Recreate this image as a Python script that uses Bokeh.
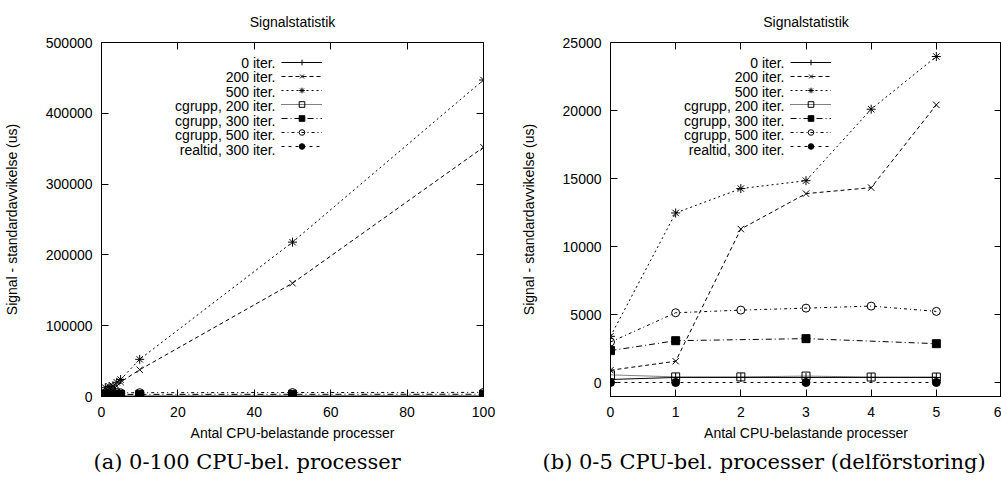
from bokeh.plotting import figure
from bokeh.models import (LinearAxis, FixedTicker, BasicTickFormatter, Range1d, Legend,
                          LegendItem, Label, CustomJSTickFormatter, Title)
from bokeh.layouts import row
from bokeh.embed import file_html
from bokeh.resources import INLINE

FONT = "Liberation Sans"
CAP_FONT = "DejaVu Serif"

# ---- data ----
x_all = [0, 1, 2, 3, 4, 5, 10, 50, 100]
x_300 = [0, 1, 3, 5, 10, 50, 100]

iter0 = [250, 400, 400, 400, 400, 400, 420, 450, 480]
iter200 = [930, 1590, 11300, 13900, 14340, 20420, 37800, 160000, 352000]
iter500 = [3420, 12480, 14270, 14850, 20100, 23970, 52500, 218000, 447000]
cg200 = [590, 440, 440, 500, 430, 430, 450, 480, 500]
cg300 = [2370, 3100, 3250, 2880, 3000, 3100, 3200]
cg500 = [3000, 5150, 5345, 5490, 5640, 5250, 5400, 5600, 5800]
rt300 = [30, 30, 30, 30, 40, 40, 50]

names = ["0 iter.", "200 iter.", "500 iter.", "cgrupp, 200 iter.",
         "cgrupp, 300 iter.", "cgrupp, 500 iter.", "realtid, 300 iter."]
xs = [x_all, x_all, x_all, x_all, x_300, x_all, x_300]
ys = [iter0, iter200, iter500, cg200, cg300, cg500, rt300]
markers = ["cross", "x", "asterisk", "square", "square", "circle", "circle"]
msizes = [9, 9, 9, 8, 8, 8, 8]
fills = [None, None, None, None, "black", None, "black"]
dashes = ["solid", "4 3", "2 3", "1 1", "6 3 1 3", "3 3 1 3", "3 4"]

left_xticks = [0, 20, 40, 60, 80, 100]
left_yticks = [0, 100000, 200000, 300000, 400000, 500000]
right_xticks = [0, 1, 2, 3, 4, 5, 6]
right_yticks = [0, 5000, 10000, 15000, 20000, 25000]

title_text = "Signalstatistik"
xlabel = "Antal CPU-belastande processer"
ylabel = "Signal - standardavvikelse (us)"
cap_a = "(a) 0-100 CPU-bel. processer"
cap_b = "(b) 0-5 CPU-bel. processer (delf\u00f6rstoring)"

ROW_PITCH = 14.5


def make_plot(width, bl, br, xr, yr, xticks, yticks, xmax, caption, cap_offset):
    p = figure(width=width, height=481, x_range=Range1d(*xr), y_range=Range1d(*yr),
               output_backend="svg", toolbar_location=None,
               min_border_left=bl, min_border_right=br, min_border_top=42,
               min_border_bottom=85)
    p.xgrid.visible = False
    p.ygrid.visible = False
    p.outline_line_color = "black"
    p.outline_line_alpha = 1.0
    p.background_fill_color = "white"
    p.border_fill_color = "white"

    for ax, ticks in ((p.xaxis[0], xticks), (p.yaxis[0], yticks)):
        ax.ticker = FixedTicker(ticks=ticks)
        ax.formatter = BasicTickFormatter(use_scientific=False)
        ax.major_tick_in = 7
        ax.major_tick_out = 0
        ax.minor_tick_in = 0
        ax.minor_tick_out = 0
        ax.major_tick_line_color = "black"
        ax.axis_line_color = "black"
        ax.major_label_text_font = FONT
        ax.major_label_text_font_size = "14px"
        ax.major_label_text_color = "black"
        ax.axis_label_text_font = FONT
        ax.axis_label_text_font_size = "14px"
        ax.axis_label_text_font_style = "normal"
        ax.axis_label_text_color = "black"
    p.xaxis[0].axis_label = xlabel
    p.xaxis[0].major_label_standoff = 10
    p.xaxis[0].axis_label_standoff = 5
    p.yaxis[0].axis_label = ylabel
    p.yaxis[0].major_label_standoff = 9
    p.yaxis[0].axis_label_standoff = 23

    for loc, ticks in (("above", xticks), ("right", yticks)):
        ax = LinearAxis(ticker=FixedTicker(ticks=ticks),
                        formatter=CustomJSTickFormatter(code="return ''"),
                        major_tick_in=7, major_tick_out=0, minor_tick_in=0,
                        minor_tick_out=0, major_label_standoff=0,
                        axis_line_color=None, major_tick_line_color="black")
        p.add_layout(ax, loc)

    # spacer above the frame, then the plot title further out
    p.add_layout(Title(text=" ", text_font_size="6px", standoff=0), "above")
    p.add_layout(Title(text=title_text, align="center", text_font=FONT,
                       text_font_size="14px", text_font_style="normal",
                       text_color="black"), "above")

    items = []
    for i, (name, x, y, m, ms, f, d) in enumerate(zip(names, xs, ys, markers, msizes,
                                                      fills, dashes)):
        xx = [a for a in x if a <= xmax]
        yy = [b for a, b in zip(x, y) if a <= xmax]
        lr = p.line(xx, yy, line_color="black", line_width=1, line_dash=d)
        sr = p.scatter(xx, yy, marker=m, size=ms, line_color="black", line_width=1,
                       fill_color=f if f else None)
        items.append(LegendItem(label=" ", renderers=[lr, sr]))
        # gnuplot-style key text: right-aligned, left of the sample
        p.add_layout(Label(x=174, y=334 - i * ROW_PITCH, x_units="screen", y_units="screen",
                           text=name, text_align="right", text_baseline="middle",
                           text_font=FONT, text_font_size="14px", text_color="black"))

    legend = Legend(items=items, location=(180, 243), padding=0, margin=0, spacing=0,
                    glyph_width=41, glyph_height=14, label_height=14, label_width=0,
                    label_standoff=0, label_text_font=FONT, label_text_font_size="8px",
                    border_line_color=None, background_fill_alpha=0)
    p.add_layout(legend)

    cap = Title(text=caption, align="left", offset=cap_offset, standoff=8,
                text_font=CAP_FONT, text_font_size="21px", text_font_style="normal",
                text_color="black")
    p.add_layout(cap, "below")
    return p


p1 = make_plot(500, 100, 17, (0, 100), (0, 500000), left_xticks, left_yticks, 100, cap_a, -8)
p2 = make_plot(501, 110, 0, (0, 6), (-1000, 25000), right_xticks, right_yticks, 5, cap_b, -68)

layout = row(p1, p2)
open("out.html", "w").write(file_html(layout, INLINE))
